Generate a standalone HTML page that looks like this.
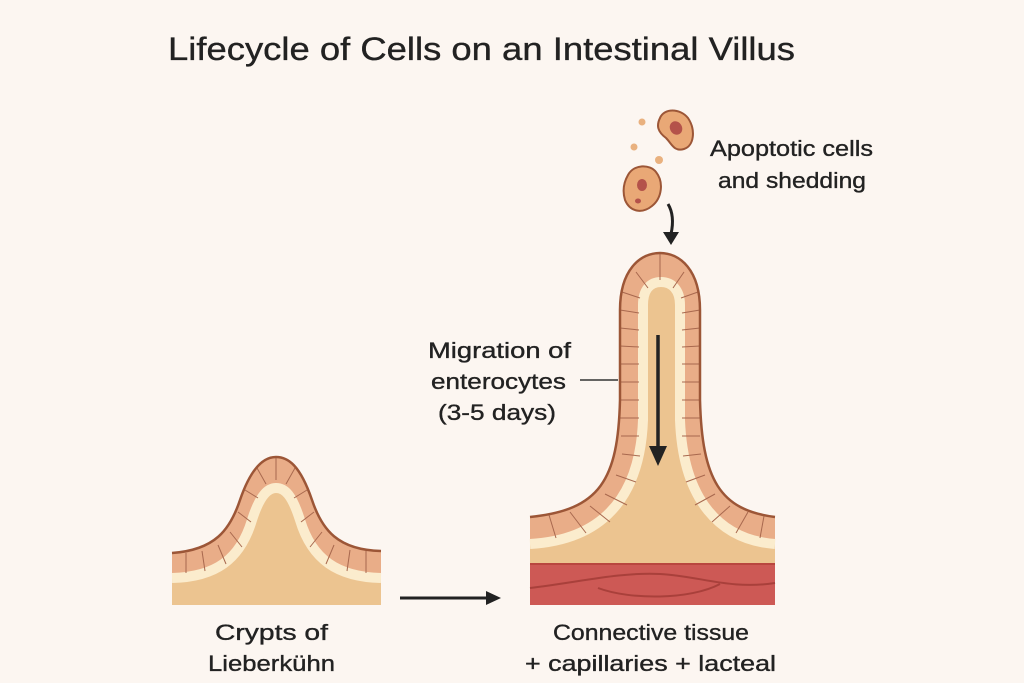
<!DOCTYPE html>
<html><head><meta charset="utf-8"><style>
html,body{margin:0;padding:0;background:#fcf6f1;}
svg{display:block;}
text{font-family:"Liberation Sans",sans-serif;fill:#222;stroke:#222;stroke-width:0.35;}
</style></head><body>
<svg width="1024" height="683" viewBox="0 0 1024 683" xmlns="http://www.w3.org/2000/svg">
<rect width="1024" height="683" fill="#fcf6f1"/>
<text x="168" y="60" font-size="32" textLength="627" lengthAdjust="spacingAndGlyphs">Lifecycle of Cells on an Intestinal Villus</text>

<!-- small villus -->
<path d="M172,553 C215,550 230,530 240,500 C252,465 265,457 276,457 C288,457 300,465 312,500 C322,530 338,550 381,551 L381,605 L172,605 Z" fill="#e9ad88"/>
<path d="M172,578 C215,577 240,560 252,520 C260,495 268,488 276,488 C285,488 292,495 300,520 C312,560 338,577 381,578 L381,605 L172,605 Z" fill="#ecc490"/>
<path d="M172,578 C215,577 240,560 252,520 C260,495 268,488 276,488 C285,488 292,495 300,520 C312,560 338,577 381,578" fill="none" stroke="#fbeccd" stroke-width="10"/>
<g stroke="#a8684e" stroke-width="1">
<line x1="186" y1="553" x2="186" y2="573"/><line x1="202" y1="551" x2="205" y2="571"/><line x1="218" y1="545" x2="226" y2="564"/>
<line x1="230" y1="532" x2="242" y2="547"/><line x1="238" y1="512" x2="251" y2="522"/><line x1="245" y1="490" x2="258" y2="498"/>
<line x1="257" y1="468" x2="266" y2="484"/><line x1="276" y1="457" x2="276" y2="480"/><line x1="295" y1="468" x2="286" y2="484"/>
<line x1="307" y1="490" x2="294" y2="498"/><line x1="314" y1="512" x2="301" y2="522"/><line x1="322" y1="532" x2="310" y2="547"/>
<line x1="334" y1="545" x2="326" y2="564"/><line x1="350" y1="550" x2="347" y2="571"/><line x1="366" y1="551" x2="366" y2="573"/>
</g>
<path d="M172,553 C215,550 230,530 240,500 C252,465 265,457 276,457 C288,457 300,465 312,500 C322,530 338,550 381,551" fill="none" stroke="#9c5637" stroke-width="2.5"/>

<!-- arrow -->
<line x1="400" y1="598" x2="488" y2="598" stroke="#222" stroke-width="3"/>
<polygon points="486,591 501,598 486,605" fill="#222"/>

<!-- big villus -->
<rect x="530" y="563" width="245" height="42" fill="#cd5955"/>
<line x1="530" y1="564" x2="775" y2="564" stroke="#b9463f" stroke-width="2"/>
<path d="M530,588 C580,582 620,572 660,574 C700,576 730,590 775,583" fill="none" stroke="#a9403b" stroke-width="2"/>
<path d="M598,588 C630,600 690,600 720,584" fill="none" stroke="#a9403b" stroke-width="2"/>
<path d="M530,517 C600,510 618,480 620,400 L620,310 C620,270 640,253 660,253 C680,253 700,270 700,310 L700,400 C702,480 720,510 775,517 L775,563 L530,563 Z" fill="#e9ad88"/>
<path d="M530,544 C600,540 640,500 643,420 L643,305 C643,290 650,282 661,282 C672,282 680,290 680,305 L680,420 C683,500 720,540 775,544 L775,563 L530,563 Z" fill="#ecc490"/>
<path d="M530,544 C600,540 640,500 643,420 L643,305 C643,290 650,282 661,282 C672,282 680,290 680,305 L680,420 C683,500 720,540 775,544" fill="none" stroke="#fbeccd" stroke-width="10"/>
<g stroke="#a8684e" stroke-width="1">
<line x1="620" y1="310" x2="639" y2="313"/><line x1="620" y1="328" x2="639" y2="330"/><line x1="620" y1="346" x2="639" y2="347"/>
<line x1="620" y1="364" x2="639" y2="364"/><line x1="620" y1="382" x2="639" y2="382"/><line x1="620" y1="400" x2="639" y2="400"/>
<line x1="620" y1="418" x2="639" y2="418"/><line x1="621" y1="436" x2="639" y2="436"/><line x1="622" y1="454" x2="640" y2="456"/>
<line x1="616" y1="475" x2="636" y2="482"/><line x1="605" y1="494" x2="627" y2="505"/><line x1="590" y1="506" x2="610" y2="522"/>
<line x1="570" y1="512" x2="586" y2="533"/><line x1="549" y1="515" x2="556" y2="538"/>
<line x1="700" y1="310" x2="682" y2="313"/><line x1="700" y1="328" x2="682" y2="330"/><line x1="700" y1="346" x2="682" y2="347"/>
<line x1="700" y1="364" x2="682" y2="364"/><line x1="700" y1="382" x2="682" y2="382"/><line x1="700" y1="400" x2="682" y2="400"/>
<line x1="700" y1="418" x2="682" y2="418"/><line x1="700" y1="436" x2="682" y2="436"/><line x1="701" y1="454" x2="683" y2="456"/>
<line x1="705" y1="475" x2="686" y2="482"/><line x1="715" y1="494" x2="695" y2="505"/><line x1="730" y1="506" x2="712" y2="522"/>
<line x1="748" y1="512" x2="736" y2="533"/><line x1="764" y1="516" x2="760" y2="538"/>
<line x1="636" y1="272" x2="648" y2="288"/><line x1="660" y1="254" x2="660" y2="280"/><line x1="684" y1="272" x2="673" y2="288"/>
<line x1="622" y1="292" x2="640" y2="298"/><line x1="698" y1="292" x2="681" y2="298"/>
</g>
<path d="M530,517 C600,510 618,480 620,400 L620,310 C620,270 640,253 660,253 C680,253 700,270 700,310 L700,400 C702,480 720,510 775,517" fill="none" stroke="#9c5637" stroke-width="2.5"/>
<line x1="658" y1="335" x2="658" y2="448" stroke="#222" stroke-width="3.5"/>
<polygon points="649,446 667,446 658,466" fill="#222"/>

<!-- migration label -->
<text x="428" y="358" font-size="22" textLength="143" lengthAdjust="spacingAndGlyphs">Migration of</text>
<text x="431" y="389" font-size="22" textLength="135" lengthAdjust="spacingAndGlyphs">enterocytes</text>
<text x="438" y="420" font-size="22" textLength="118" lengthAdjust="spacingAndGlyphs">(3-5 days)</text>
<line x1="580" y1="380" x2="618" y2="380" stroke="#333" stroke-width="1.5"/>

<!-- apoptotic cells -->
<circle cx="642" cy="122" r="3.5" fill="#e9b17f"/>
<circle cx="634" cy="147" r="3.5" fill="#e9b17f"/>
<circle cx="659" cy="160" r="4" fill="#e9b17f"/>
<path d="M660,118 C664,108 680,108 688,118 C696,130 694,146 684,149 C674,152 672,144 666,138 C658,132 656,126 660,118 Z" fill="#e9a876" stroke="#9c5637" stroke-width="2"/>
<ellipse cx="676" cy="128" rx="6" ry="7" transform="rotate(-30 676 128)" fill="#b4524a"/>
<path d="M628,175 C634,164 650,164 656,172 C664,182 662,198 652,206 C642,214 630,212 625,200 C622,190 624,182 628,175 Z" fill="#e9a876" stroke="#9c5637" stroke-width="2"/>
<ellipse cx="642" cy="185" rx="5" ry="6" fill="#b4524a"/>
<ellipse cx="638" cy="201" rx="3" ry="2.5" fill="#b4524a"/>
<path d="M668,204 C674,214 673,225 671,234" fill="none" stroke="#222" stroke-width="3"/>
<polygon points="663,232 679,232 671,245" fill="#222"/>
<text x="710" y="156" font-size="22" textLength="163" lengthAdjust="spacingAndGlyphs">Apoptotic cells</text>
<text x="718" y="188" font-size="22" textLength="148" lengthAdjust="spacingAndGlyphs">and shedding</text>

<!-- bottom labels -->
<text x="215" y="640" font-size="22" textLength="113" lengthAdjust="spacingAndGlyphs">Crypts of</text>
<text x="208" y="671" font-size="22" textLength="127" lengthAdjust="spacingAndGlyphs">Lieberkühn</text>
<text x="553" y="640" font-size="22" textLength="196" lengthAdjust="spacingAndGlyphs">Connective tissue</text>
<text x="525" y="671" font-size="22" textLength="251" lengthAdjust="spacingAndGlyphs">+ capillaries + lacteal</text>
</svg>
</body></html>
